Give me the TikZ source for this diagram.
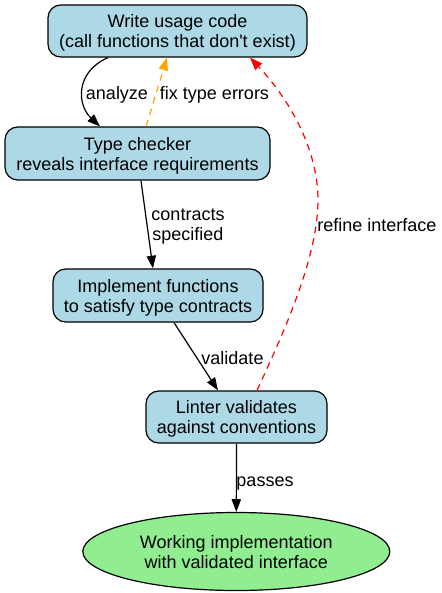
\documentclass[tikz,border=0pt]{standalone}
\usepackage{fontspec}
\setmainfont{Liberation Sans}[Ligatures=TeXOff]
\usetikzlibrary{arrows.meta,shapes.geometric}
\definecolor{boxblue}{HTML}{ADD8E6}
\definecolor{endgreen}{HTML}{90EE90}
\definecolor{gvorange}{HTML}{FFA500}
\definecolor{gvred}{HTML}{FF0000}
\newcommand{\gvtopstrut}{\rule{0pt}{12.6pt}}
\newcommand{\gvbotstrut}{\rule[-2.8pt]{0pt}{2.8pt}}
\tikzset{
  stepbox/.style={draw=black, fill=boxblue, rounded corners=9.5pt, line width=0.9pt,
    align=center, inner sep=0pt, font=\fontsize{13.5}{15}\selectfont},
  goalnode/.style={draw=black, fill=endgreen, ellipse, line width=0.9pt,
    align=center, inner sep=0pt, font=\fontsize{13.5}{15}\selectfont},
  lbl/.style={align=center, inner sep=0pt, font=\fontsize{13.5}{15}\selectfont},
  edge/.style={line width=0.9pt, -{Triangle[length=9.5pt,width=7pt]}},
  gvdash/.style={dash pattern=on 5pt off 4pt}
}
\begin{document}
\begin{tikzpicture}[x=0.75pt,y=-0.75pt]
\useasboundingbox (0,0) rectangle (442,593);
\node[stepbox, minimum width=194.25pt, minimum height=39pt] (w) at (177.5,31)
  {\gvtopstrut Write usage code\\(call functions that don't exist)\gvbotstrut};
\node[stepbox, minimum width=198.75pt, minimum height=39.75pt] (t) at (137.5,153.5)
  {\gvtopstrut Type checker\\reveals interface requirements\gvbotstrut};
\node[stepbox, minimum width=157.5pt, minimum height=39.75pt] (i) at (158,295.5)
  {\gvtopstrut Implement functions\\to satisfy type contracts\gvbotstrut};
\node[stepbox, minimum width=135.75pt, minimum height=39pt] (l) at (236.5,417)
  {\gvtopstrut Linter validates\\against conventions\gvbotstrut};
\node[goalnode, minimum width=230.25pt, minimum height=58.5pt] (e) at (236.3,551.5)
  {\gvtopstrut Working implementation\\with validated interface\gvbotstrut};

% edges
\draw[edge] ([xshift=-52.1pt]w.south) .. controls (75,72) and (77,105) .. ([xshift=-28.1pt]t.north);
\draw[edge, gvorange, gvdash] ([xshift=6.4pt]t.north) -- ([xshift=-7.9pt]w.south);
\draw[edge] ([xshift=2.6pt]t.south) -- ([xshift=-3.75pt]i.north);
\draw[edge] ([xshift=12pt]i.south) -- ([xshift=-13.9pt]l.north);
\draw[edge, gvred, gvdash] ([xshift=15.4pt]l.north) .. controls (280,340) and (318,260) .. (318,200)
  .. controls (318,150) and (290,100) .. ([xshift=54.4pt]w.south);
\draw[edge] (l.south) -- (e.north);

% labels
\node[lbl, anchor=base] (la) at (117,99.3) {analyze};
\node[lbl, anchor=base] (lf) at (214.5,99.3) {fix type errors};
\node[lbl] (lc) at (188,224.2) {\gvtopstrut contracts\\specified\gvbotstrut};
\node[lbl, anchor=base] (lv) at (232.5,364) {validate};
\node[lbl, anchor=base] (lr) at (377,231.7) {refine interface};
\node[lbl, anchor=base] (lp) at (265,486) {passes};
\end{tikzpicture}
\end{document}
